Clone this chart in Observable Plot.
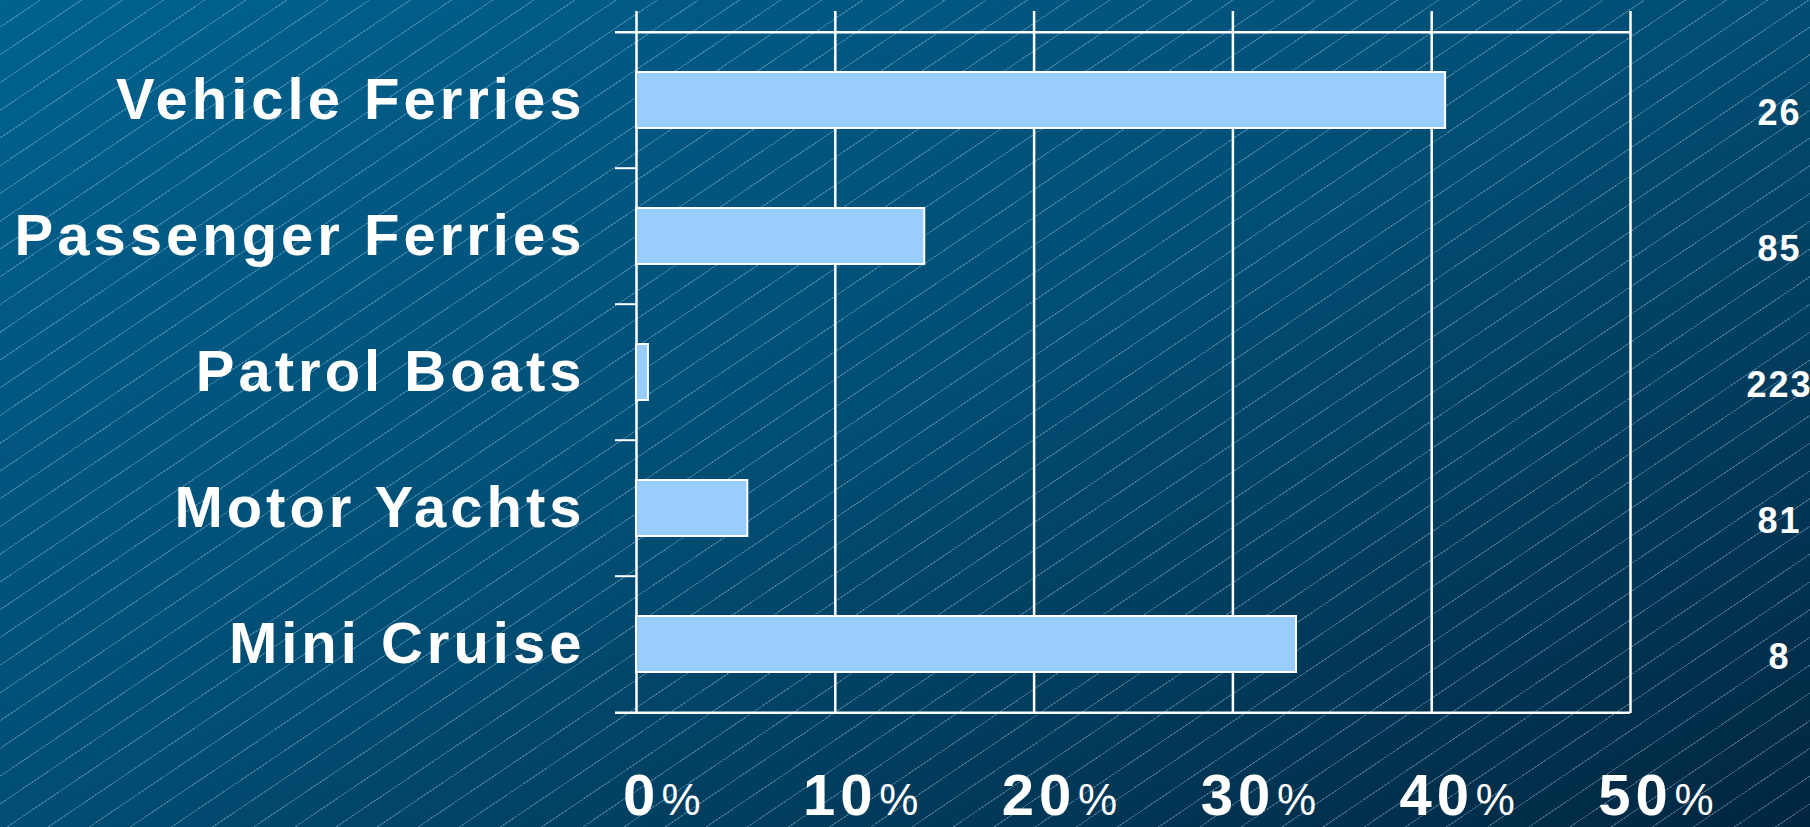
<!DOCTYPE html>
<html>
<head>
<meta charset="utf-8">
<script src="https://cdn.jsdelivr.net/npm/d3@7"></script>
<script src="https://cdn.jsdelivr.net/npm/@observablehq/plot@0.6"></script>
<style>
  html, body { margin: 0; padding: 0; }
  body {
    width: 1810px; height: 827px; overflow: hidden;
    background:
      repeating-linear-gradient(146deg, rgba(255,255,255,0) 0px, rgba(255,255,255,0) 22px, rgba(190,220,245,0.33) 22px, rgba(190,220,245,0.33) 23px),
      linear-gradient(to bottom right, #00628f 0%, #014d73 50%, #012640 100%);
  }
  #chart svg { display: block; background: transparent; }
  #chart g[aria-label="y-axis tick label"] text { font-size: 58px; font-weight: bold; letter-spacing: 4px; fill: #fff; }
  #chart g[aria-label="x-axis tick label"] text { font-size: 58px; font-weight: bold; letter-spacing: 5px; fill: #fff; }
</style>
</head>
<body>
<div id="chart"></div>
<script>
// ---- data ----
const categories = ["Vehicle Ferries", "Passenger Ferries", "Patrol Boats", "Motor Yachts", "Mini Cruise"];
const shares = [40.7, 14.5, 0.6, 5.6, 33.2];   // percent
const counts = [26, 85, 223, 81, 8];
const xTicks = [0, 10, 20, 30, 40, 50];

const data = categories.map((c, i) => ({category: c, share: shares[i], count: counts[i]}));

// ---- layout ----
const W = 1810, H = 827;
const mTop = 30, mBottom = 114, mLeft = 636, mRight = 180;
const step = (H - mTop - mBottom) / categories.length;
const digitW = 19;

const font = "'Liberation Sans', Arial, Helvetica, sans-serif";

const chart = Plot.plot({
  width: W,
  height: H,
  marginTop: mTop,
  marginBottom: mBottom,
  marginLeft: mLeft,
  marginRight: mRight,
  style: {background: "transparent", color: "white", fontFamily: font, overflow: "visible"},
  x: {domain: [0, 50]},
  y: {domain: categories, paddingInner: 0.59, paddingOuter: 0.295},
  marks: [
    // vertical grid lines
    Plot.ruleX(xTicks, {x: d => d, stroke: "white", strokeWidth: 2.5, insetTop: -19}),
    // top & bottom frame lines (extend left past the axis)
    Plot.ruleY([categories[0]], {y: d => d, dy: -step / 2, x1: 0, x2: 50, insetLeft: -21, stroke: "white", strokeWidth: 2.5}),
    Plot.ruleY([categories[categories.length - 1]], {y: d => d, dy: step / 2, x1: 0, x2: 50, insetLeft: -21, stroke: "white", strokeWidth: 2.5}),
    // category separator ticks
    Plot.ruleY(categories.slice(1), {y: d => d, dy: -step / 2, x1: 0, x2: 0, insetLeft: -21, stroke: "white", strokeWidth: 2}),
    // bars
    Plot.barX(data, {x: "share", y: "category", fill: "#99ccff", stroke: "white", strokeWidth: 2}),
    // axes
    Plot.axisY({tickSize: 0, tickPadding: 51, label: null, fontSize: 58, fontWeight: "bold"}),
    Plot.axisX(xTicks, {tickSize: 0, tickPadding: 60, dx: 5, label: null, tickFormat: d => String(d), fontSize: 58, fontWeight: "bold"}),
    // percent signs after tick numbers
    Plot.text(xTicks.filter(d => String(d).length === 1), {x: d => d, text: () => "%", frameAnchor: "bottom", lineAnchor: "bottom", textAnchor: "start", dx: digitW + 6, dy: 101, fontSize: 44, fill: "white"}),
    Plot.text(xTicks.filter(d => String(d).length === 2), {x: d => d, text: () => "%", frameAnchor: "bottom", lineAnchor: "bottom", textAnchor: "start", dx: 2 * digitW + 6, dy: 101, fontSize: 44, fill: "white"}),
    // counts on the right
    Plot.text(data, {y: "category", text: d => String(d.count), frameAnchor: "right", dx: 149, dy: 13, textAnchor: "middle", fontSize: 36, fontWeight: "bold", fill: "white"})
  ]
});

// letter spacing for the right-hand counts
chart.querySelectorAll('g[aria-label="text"] text').forEach(t => {
  if (/^\d+$/.test(t.textContent)) t.style.letterSpacing = "2px";
});

document.getElementById("chart").appendChild(chart);
</script>
</body>
</html>
